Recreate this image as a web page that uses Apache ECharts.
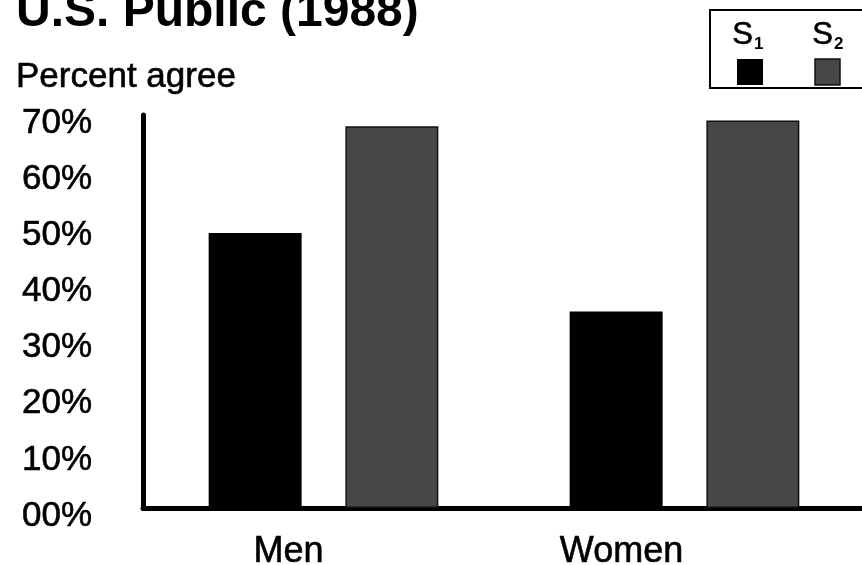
<!DOCTYPE html>
<html>
<head>
<meta charset="utf-8">
<script src="https://cdn.jsdelivr.net/npm/echarts@6/dist/echarts.min.js"></script>
<style>
html,body{margin:0;padding:0;background:#fff;}
#c{width:862px;height:565px;}
</style>
</head>
<body>
<div id="c"></div>
<script>
const categories = ['Men', 'Women'];
const seriesNames = ['S1', 'S2'];
const s1Values = [49, 35];
const s2Values = [68, 69];
const yTicks = [0, 10, 20, 30, 40, 50, 60, 70];

const FONT = '"Liberation Sans", Arial, Helvetica, sans-serif';
const chart = echarts.init(document.getElementById('c'), null, {renderer: 'canvas'});

const labelShift = {Men: 70, Women: 126};

chart.setOption({
  animation: false,
  backgroundColor: '#ffffff',
  title: [
    {text: 'U.S. Public (1988)', left: 11, top: -16,
     textStyle: {fontFamily: FONT, fontSize: 48, fontWeight: 'bold', color: '#000'}},
    {text: 'Percent agree', left: 11, top: 55,
     textStyle: {fontFamily: FONT, fontSize: 35, fontWeight: 'normal', color: '#000', textBorderColor: '#000', textBorderWidth: 0.6}}
  ],
  grid: {left: 143, top: 115, bottom: 57, width: 722, containLabel: false, outerBoundsMode: 'none'},
  xAxis: {
    type: 'category',
    data: categories,
    axisLine: {lineStyle: {color: '#000', width: 5}},
    axisTick: {show: false},
    axisLabel: {
      margin: 26,
      formatter: function (v) { return '{' + v + '|' + v + '}'; },
      rich: {
        Men: {fontFamily: FONT, fontSize: 36, color: '#000', textBorderColor: '#000', textBorderWidth: 0.6, padding: [0, labelShift.Men, 0, 0]},
        Women: {fontFamily: FONT, fontSize: 36, color: '#000', textBorderColor: '#000', textBorderWidth: 0.6, padding: [0, labelShift.Women, 0, 0]}
      }
    }
  },
  yAxis: {
    type: 'value',
    min: yTicks[0],
    max: yTicks[yTicks.length - 1],
    interval: 10,
    axisLine: {show: true, lineStyle: {color: '#000', width: 5}},
    axisTick: {show: false},
    splitLine: {show: false},
    axisLabel: {
      margin: 51,
      formatter: function (v) { return '{t|' + (v < 10 ? '0' : '') + v + '%}'; },
      rich: {
        t: {fontFamily: FONT, fontSize: 35, color: '#000', textBorderColor: '#000', textBorderWidth: 0.6, padding: [16, 0, 0, 0]}
      }
    }
  },
  series: [
    {name: seriesNames[0], type: 'bar', data: s1Values, barWidth: 93, barGap: '47%',
     itemStyle: {color: '#000000'}},
    {name: seriesNames[1], type: 'bar', data: s2Values, barWidth: 93,
     itemStyle: {color: '#474747', borderColor: '#111', borderWidth: 1.5}}
  ],
  graphic: [
    {type: 'rect', shape: {x: 710, y: 10, width: 170, height: 78},
     style: {fill: '#fff', stroke: '#000', lineWidth: 2}},
    {type: 'text', left: 732, top: 20, style: {text: 'S', font: '31px ' + FONT, fill: '#000', stroke: '#000', lineWidth: 0.6}},
    {type: 'text', left: 754, top: 36, style: {text: '1', font: 'bold 17px ' + FONT, fill: '#000'}},
    {type: 'text', left: 812, top: 20, style: {text: 'S', font: '31px ' + FONT, fill: '#000', stroke: '#000', lineWidth: 0.6}},
    {type: 'text', left: 834, top: 36, style: {text: '2', font: 'bold 17px ' + FONT, fill: '#000'}},
    {type: 'rect', shape: {x: 737, y: 59, width: 26, height: 26}, style: {fill: '#000'}},
    {type: 'rect', shape: {x: 815, y: 59, width: 25, height: 26},
     style: {fill: '#474747', stroke: '#111', lineWidth: 1.5}}
  ]
});
</script>
</body>
</html>
